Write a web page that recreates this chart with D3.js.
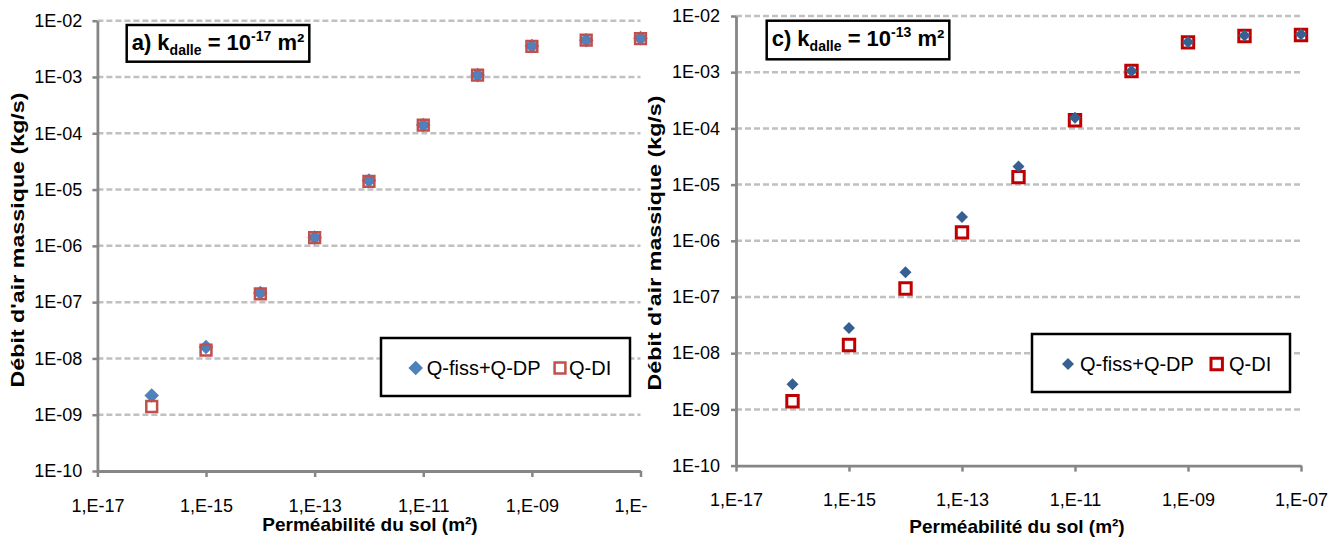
<!DOCTYPE html>
<html>
<head>
<meta charset="utf-8">
<script src="https://cdn.jsdelivr.net/npm/d3@7"></script>
<style>
  html, body { margin: 0; padding: 0; background: #ffffff; }
  svg { display: block; }
  text { font-family: 'Liberation Sans Narrow', 'Liberation Sans', Arial, sans-serif; }
</style>
</head>
<body>
<svg id="chart" width="1337" height="539"></svg>
<script>
// Soil permeability (m²) at which the air mass flow was computed
const permeability = [1e-16, 1e-15, 1e-14, 1e-13, 1e-12, 1e-11, 1e-10, 1e-9, 1e-8, 1e-7];

// Panel a) k_dalle = 1e-17 m²
const aFissDP = [2.2e-9, 1.6e-8, 1.45e-7, 1.4e-6, 1.45e-5, 1.4e-4, 1.08e-3, 3.55e-3, 4.5e-3, 4.9e-3];
const aDI     = [1.4e-9, 1.4e-8, 1.4e-7, 1.4e-6, 1.4e-5, 1.4e-4, 1.08e-3, 3.5e-3, 4.5e-3, 4.8e-3];

// Panel c) k_dalle = 1e-13 m²
const cFissDP = [2.8e-9, 2.8e-8, 2.75e-7, 2.65e-6, 2.1e-5, 1.55e-4, 1.05e-3, 3.45e-3, 4.5e-3, 4.75e-3];
const cDI     = [1.4e-9, 1.4e-8, 1.42e-7, 1.41e-6, 1.36e-5, 1.4e-4, 1.05e-3, 3.4e-3, 4.4e-3, 4.6e-3];

// Axis ticks and their labels
const xTickValues = [1e-17, 1e-15, 1e-13, 1e-11, 1e-9, 1e-7];
const xTickLabels = ["1,E-17", "1,E-15", "1,E-13", "1,E-11", "1,E-09", "1,E-07"];
const yTickValues = [1e-10, 1e-9, 1e-8, 1e-7, 1e-6, 1e-5, 1e-4, 1e-3, 1e-2];
const yTickLabels = ["1E-10", "1E-09", "1E-08", "1E-07", "1E-06", "1E-05", "1E-04", "1E-03", "1E-02"];

const seriesNames = ["Q-fiss+Q-DP", "Q-DI"];
const yTitle = "Débit d'air massique (kg/s)";
const xTitle = "Perméabilité du sol (m²)";

const svg = d3.select("#chart");

// clip so the last x label of the left panel is cut at the panel edge
svg.append("defs").append("clipPath").attr("id", "clipLeft")
  .append("rect").attr("x", 0).attr("y", 0).attr("width", 648).attr("height", 539);

const panels = [
  {
    id: "a", letter: "a)", exp: "-17",
    fiss: aFissDP, di: aDI,
    x0: 97.4, x1: 640.5, y0: 20.7, y1: 471,
    clip: "url(#clipLeft)",
    diamond: { color: "#4F81BD", r: 7.3 },
    square: { color: "#C0504D", half: 5.4, sw: 2.5 },
    squaresOnTop: true,
    title: { x: 131.7, y: 50, boxY0: 25, boxY1: 61.7 },
    legend: { x0: 381, y0: 338, x1: 630, y1: 396, dx: 415.7, sx: 560, cy: 368, t1: 426.7, t2: 569, base: 375 },
    yTitleX: 18, yTitleY: 240,
    xTitleX: 370, xTitleY: 531, xLabelPad: 22
  },
  {
    id: "c", letter: "c)", exp: "-13",
    fiss: cFissDP, di: cDI,
    x0: 736, x1: 1301, y0: 16, y1: 465.6,
    clip: null,
    diamond: { color: "#376092", r: 6 },
    square: { color: "#C00000", half: 5.7, sw: 3 },
    squaresOnTop: false,
    title: { x: 771.7, y: 46, boxY0: 20.7, boxY1: 59.3 },
    legend: { x0: 1032, y0: 334, x1: 1290, y1: 392, dx: 1068, sx: 1216.7, cy: 364, t1: 1080, t2: 1229, base: 370.7 },
    yTitleX: 655, yTitleY: 243,
    xTitleX: 1017, xTitleY: 533, xLabelPad: 22
  }
];

function diamondPath(r) {
  return `M0,${-r}L${r},0L0,${r}L${-r},0Z`;
}
function squarePath(h) {
  return `M${-h},${-h}H${h}V${h}H${-h}Z`;
}

panels.forEach(p => {
  const g = svg.append("g");
  if (p.clip) g.attr("clip-path", p.clip);

  const x = d3.scaleLog().domain([1e-17, 1e-7]).range([p.x0, p.x1]);
  const y = d3.scaleLog().domain([1e-10, 1e-2]).range([p.y1, p.y0]);

  // dashed horizontal gridlines
  g.append("g").selectAll("line")
    .data(yTickValues.slice(1))
    .join("line")
    .attr("x1", p.x0).attr("x2", p.x1)
    .attr("y1", d => y(d)).attr("y2", d => y(d))
    .attr("stroke", "#c0c0c0")
    .attr("stroke-width", 2.5)
    .attr("stroke-dasharray", "6,3");

  // y axis
  const yAxis = g.append("g")
    .attr("transform", `translate(${p.x0},0)`)
    .call(d3.axisLeft(y).tickValues(yTickValues)
      .tickFormat((d, i) => yTickLabels[i])
      .tickSize(5).tickSizeOuter(0).tickPadding(p.id === "a" ? 10 : 11));
  // x axis
  const xAxis = g.append("g")
    .attr("transform", `translate(0,${p.y1})`)
    .call(d3.axisBottom(x).tickValues(xTickValues)
      .tickFormat((d, i) => xTickLabels[i])
      .tickSize(6).tickSizeOuter(0).tickPadding(p.xLabelPad));

  [yAxis, xAxis].forEach(ax => {
    ax.select(".domain").attr("stroke", "#868686").attr("stroke-width", 2.8);
    ax.selectAll(".tick line").attr("stroke", "#868686").attr("stroke-width", 2.5);
    ax.selectAll(".tick text")
      .attr("fill", "#000")
      .style("font-size", "18px")
      .style("font-family", "'Liberation Sans Narrow', 'Liberation Sans', Arial, sans-serif");
  });

  // markers
  const pts = permeability.map((k, i) => ({ k, fiss: p.fiss[i], di: p.di[i] }));
  const drawDiamonds = () => g.append("g").selectAll("path")
    .data(pts).join("path")
    .attr("d", diamondPath(p.diamond.r))
    .attr("transform", d => `translate(${x(d.k)},${y(d.fiss)})`)
    .attr("fill", p.diamond.color);
  const drawSquares = () => g.append("g").selectAll("path")
    .data(pts).join("path")
    .attr("d", squarePath(p.square.half))
    .attr("transform", d => `translate(${x(d.k)},${y(d.di)})`)
    .attr("fill", "none")
    .attr("stroke", p.square.color)
    .attr("stroke-width", p.square.sw);
  if (p.squaresOnTop) { drawDiamonds(); drawSquares(); }
  else { drawSquares(); drawDiamonds(); }

  // legend
  const L = p.legend;
  const lg = svg.append("g");
  lg.append("rect")
    .attr("x", L.x0).attr("y", L.y0)
    .attr("width", L.x1 - L.x0).attr("height", L.y1 - L.y0)
    .attr("fill", "#fff").attr("stroke", "#000").attr("stroke-width", 2.5);
  lg.append("path").attr("d", diamondPath(p.diamond.r))
    .attr("transform", `translate(${L.dx},${L.cy})`)
    .attr("fill", p.diamond.color);
  lg.append("path").attr("d", squarePath(p.square.half))
    .attr("transform", `translate(${L.sx},${L.cy})`)
    .attr("fill", "none").attr("stroke", p.square.color).attr("stroke-width", p.square.sw);
  lg.append("text").attr("x", L.t1).attr("y", L.base)
    .style("font-size", "20px").text(seriesNames[0]);
  lg.append("text").attr("x", L.t2).attr("y", L.base)
    .style("font-size", "20px").text(seriesNames[1]);

  // panel title box
  const T = p.title;
  const tg = svg.append("g");
  const box = tg.append("rect").attr("fill", "#fff").attr("stroke", "#000").attr("stroke-width", 2.5);
  const t = tg.append("text").attr("x", T.x).attr("y", T.y)
    .style("font-size", "22px").style("font-weight", "bold");
  t.append("tspan").text(p.letter + " k");
  t.append("tspan").attr("dy", 5).style("font-size", "14px").text("dalle");
  t.append("tspan").attr("dy", -5).text(" = 10");
  t.append("tspan").attr("dy", -9).style("font-size", "14px").text(p.exp);
  t.append("tspan").attr("dy", 9).text(" m²");
  const bb = t.node().getBBox();
  box.attr("x", bb.x - 5).attr("width", bb.width + 10)
    .attr("y", T.boxY0).attr("height", T.boxY1 - T.boxY0);

  // axis titles
  svg.append("text")
    .attr("transform", `translate(${p.yTitleX},${p.yTitleY}) rotate(-90)`)
    .attr("text-anchor", "middle").attr("dy", "0.35em")
    .attr("textLength", 295).attr("lengthAdjust", "spacingAndGlyphs")
    .style("font-family", "'Liberation Sans', Arial, sans-serif")
    .style("font-size", "18px").style("font-weight", "bold")
    .text(yTitle);
  svg.append("text")
    .attr("x", p.xTitleX).attr("y", p.xTitleY)
    .attr("text-anchor", "middle")
    .style("font-size", "19px").style("font-weight", "bold")
    .text(xTitle);
});
</script>
</body>
</html>
